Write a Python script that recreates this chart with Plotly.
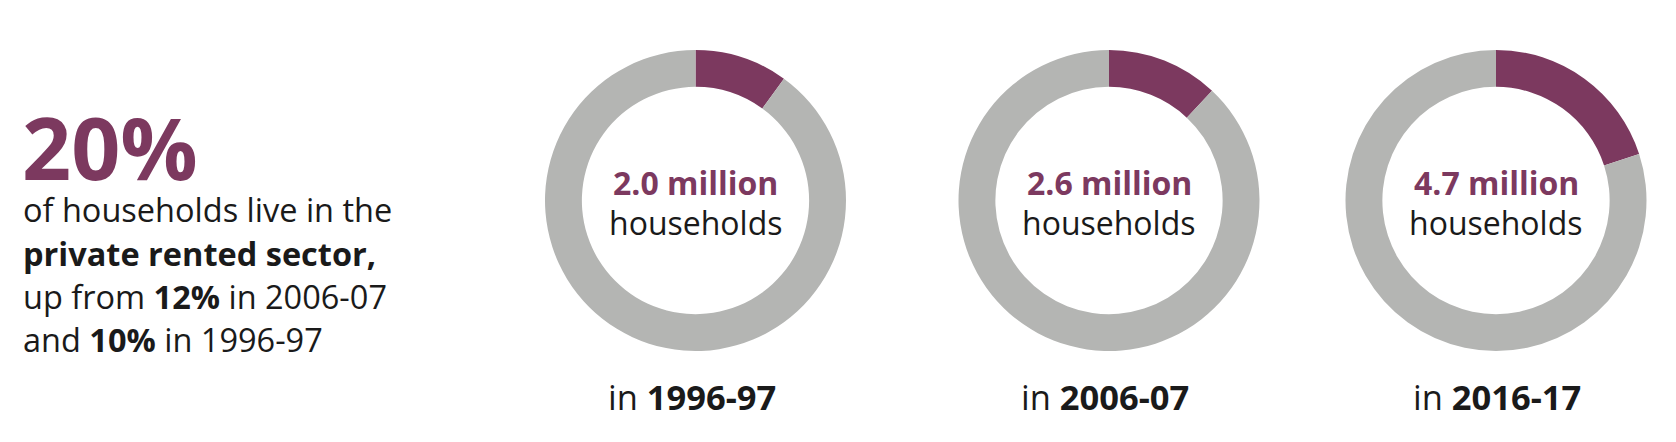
import plotly.graph_objects as go

# Page body has a default 8px margin; the figure is sized to fit inside it.
PAGE_W, PAGE_H = 1676, 442
OFF = 8
W, H = PAGE_W - 2 * OFF, PAGE_H - 2 * OFF

years = ["1996-97", "2006-07", "2016-17"]
prs_share = [10, 12, 20]          # % of households in private rented sector
prs_households = ["2.0", "2.6", "4.7"]  # millions

PURPLE = "#7C395F"
GRAY = "#B4B5B3"
DARK = "#1a1a1a"
FONT = "Open Sans"

centers_x = [695.5, 1109, 1496]   # page px
year_label_x = [691.5, 1105, 1496.5]
center_y = 200.5
diam = 301

def px_x(v):
    return (v - OFF) / W

def px_y(v):
    return 1 - (v - OFF) / H

fig = go.Figure()
for i, (yr, share) in enumerate(zip(years, prs_share)):
    cx = centers_x[i]
    fig.add_trace(go.Pie(
        values=[share, 100 - share],
        labels=["Private rented", "Other"],
        marker=dict(colors=[PURPLE, GRAY], line=dict(width=0)),
        hole=0.755,
        sort=False,
        direction="clockwise",
        rotation=0,
        textinfo="none",
        hoverinfo="label+percent",
        showlegend=False,
        domain=dict(x=[px_x(cx - diam / 2), px_x(cx + diam / 2)],
                    y=[px_y(center_y + diam / 2), px_y(center_y - diam / 2)]),
    ))
    fig.add_annotation(x=px_x(cx), y=px_y(182), xref="paper", yref="paper",
                       text=f"<b>{prs_households[i]} million</b>", showarrow=False,
                       font=dict(family=FONT, size=32, color=PURPLE),
                       xanchor="center", yanchor="middle")
    fig.add_annotation(x=px_x(cx), y=px_y(222), xref="paper", yref="paper",
                       text="households", showarrow=False,
                       font=dict(family=FONT, size=32, color=DARK),
                       xanchor="center", yanchor="middle")
    fig.add_annotation(x=px_x(year_label_x[i]), y=px_y(396), xref="paper", yref="paper",
                       text=f"in <b>{yr}</b>", showarrow=False,
                       font=dict(family=FONT, size=34.5, color=DARK),
                       xanchor="center", yanchor="middle")

left_lines = [
    ("of households live in the", 210),
    ("<b>private rented sector,</b>", 253),
    (f"up from <b>{prs_share[1]}%</b> in {years[1]}", 296),
    (f"and <b>{prs_share[0]}%</b> in {years[0]}", 339),
]
fig.add_annotation(x=px_x(20), y=px_y(146), xref="paper", yref="paper",
                   text=f"<b>{prs_share[2]}%</b>", showarrow=False,
                   font=dict(family=FONT, size=86, color=PURPLE),
                   height=84, valign="middle",
                   xanchor="left", yanchor="middle")
for txt, yy in left_lines:
    fig.add_annotation(x=px_x(21), y=px_y(yy), xref="paper", yref="paper",
                       text=txt, showarrow=False,
                       font=dict(family=FONT, size=32.5, color=DARK),
                       xanchor="left", yanchor="middle")

fig.update_layout(width=W, height=H, margin=dict(l=0, r=0, t=0, b=0),
                  paper_bgcolor="white", plot_bgcolor="white")
fig.write_html("out.html")
